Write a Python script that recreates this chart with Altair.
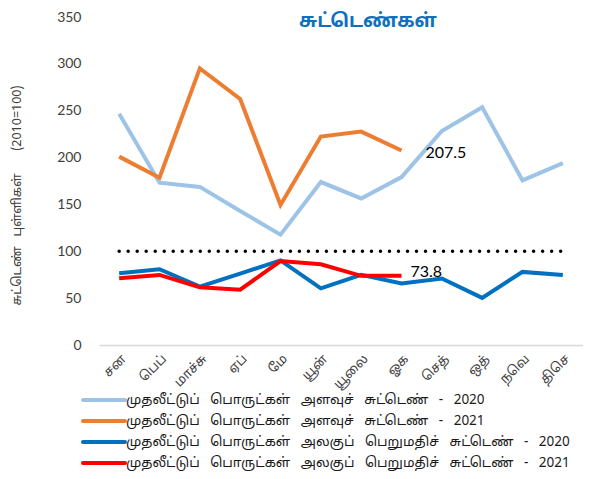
import altair as alt
import pandas as pd

months = ["சன", "பெப்", "மாச்சு", "ஏப்", "மே", "யூன்", "யூலை", "ஓக", "செத்", "ஒத்", "நவெ", "திசெ"]

SP = "\u00a0\u00a0 "
s1 = SP.join(["முதலீட்டுப்", "பொருட்கள்", "அளவுச்", "சுட்டெண்", "-", "2020"])
s2 = SP.join(["முதலீட்டுப்", "பொருட்கள்", "அளவுச்", "சுட்டெண்", "-", "2021"])
s3 = SP.join(["முதலீட்டுப்", "பொருட்கள்", "அலகுப்", "பெறுமதிச்", "சுட்டெண்", "-", "2020"])
s4 = SP.join(["முதலீட்டுப்", "பொருட்கள்", "அலகுப்", "பெறுமதிச்", "சுட்டெண்", "-", "2021"])
series_names = [s1, s2, s3, s4]
colors = ["#9DC3E6", "#ED7D31", "#0070C0", "#FF0000"]

vol_2020 = [246.7, 173.2, 168.7, 143.0, 117.7, 173.9, 156.4, 179.2, 228.4, 253.7, 175.7, 194.0]
vol_2021 = [201.0, 178.5, 295.2, 262.5, 149.4, 222.4, 227.7, 207.5]
val_2020 = [76.6, 80.8, 62.2, 76.2, 90.3, 60.4, 74.8, 65.7, 71.0, 50.3, 78.0, 74.8]
val_2021 = [71.3, 74.8, 61.5, 59.0, 89.6, 86.1, 73.8, 73.8]
base = [100] * 12

title_text = "சுட்டெண்கள்"
y_title = "சுட்டெண்\u00a0\u00a0 புள்ளிகள்\u00a0\u00a0\u00a0\u00a0\u00a0\u00a0 (2010=100)"

TAMIL = "Noto Sans Tamil, Lohit Tamil, Latha, Noto Serif Tamil, sans-serif"

rows = []
for name, vals in zip(series_names, [vol_2020, vol_2021, val_2020, val_2021]):
    for i, v in enumerate(vals):
        rows.append({"month": months[i], "series": name, "value": v, "order": i})
df = pd.DataFrame(rows)
df_base = pd.DataFrame({"month": months, "value": base, "order": list(range(12))})
df_leg = pd.DataFrame({"series": series_names})

color_enc = alt.Color("series:N", sort=series_names,
                      scale=alt.Scale(domain=series_names, range=colors), legend=None)

x_enc = alt.X("month:N", sort=months, title=None,
              scale=alt.Scale(paddingInner=0, paddingOuter=0),
              axis=alt.Axis(labelAngle=-45, labelFontSize=13, labelColor="#404040",
                            domainColor="#D9D9D9", domainWidth=1.5, ticks=False,
                            labelPadding=7, labelFont=TAMIL))
y_scale = alt.Scale(domain=[0, 350], nice=False)

lines = alt.Chart(df).mark_line(strokeWidth=4).encode(
    x=x_enc,
    y=alt.Y("value:Q", scale=y_scale, title=y_title,
            axis=alt.Axis(values=[0, 50, 100, 150, 200, 250, 300, 350], grid=False,
                          domain=False, ticks=False, labelFontSize=14, labelColor="#404040",
                          labelFont="Lato", labelPadding=18, titleFontSize=12.5,
                          titleFontWeight="normal", titleColor="#404040", titleFont=TAMIL,
                          titlePadding=33, titleY=178)),
    color=color_enc,
    order="order:Q",
)

dots = alt.Chart(df_base).mark_line(color="black", strokeWidth=3.5, strokeDash=[0.01, 9],
                                    strokeCap="round").encode(
    x=alt.X("month:N", sort=months),
    y=alt.Y("value:Q", scale=y_scale),
    order="order:Q",
)

lab1 = alt.Chart(df[(df.series == s2) & (df.month == months[7])]).mark_text(
    align="left", dx=24, dy=2, fontSize=16, font="Lato", color="black"
).encode(x=alt.X("month:N", sort=months), y=alt.Y("value:Q", scale=y_scale),
         text=alt.Text("value:Q", format=".1f"))

lab2 = alt.Chart(df[(df.series == s4) & (df.month == months[7])]).mark_text(
    align="left", dx=9, dy=-4, fontSize=16, font="Lato", color="black"
).encode(x=alt.X("month:N", sort=months), y=alt.Y("value:Q", scale=y_scale),
         text=alt.Text("value:Q", format=".1f"))

title = alt.Chart(pd.DataFrame({"t": [title_text]})).mark_text(
    fontSize=19, fontWeight="bold", color="#1070C0", baseline="top", font=TAMIL
).encode(x=alt.value(269), y=alt.value(-5), text="t:N")

main = alt.layer(lines, dots, lab1, lab2, title)

leg_y = alt.Y("series:N", sort=series_names, axis=None,
              scale=alt.Scale(type="point", domain=series_names, range=[383, 446], padding=0))

leg_sym = alt.Chart(df_leg).mark_rule(strokeWidth=4, strokeCap="round").encode(
    x=alt.value(-16), x2=alt.value(26), y=leg_y, color=color_enc)

leg_txt = alt.Chart(df_leg).mark_text(align="left", baseline="middle", fontSize=13.5,
                                      font=TAMIL, color="#1a1a1a").encode(
    x=alt.value(27), y=leg_y, text="series:N")

chart = alt.layer(main, leg_sym, leg_txt).resolve_scale(
    y="independent"
).properties(
    width=484, height=328,
    autosize=alt.AutoSizeParams(type="none"),
    padding={"left": 91, "top": 9, "right": 0, "bottom": 126},
).configure_view(stroke=None)

chart.save("out.html", embed_options={"renderer": "svg", "actions": False})
